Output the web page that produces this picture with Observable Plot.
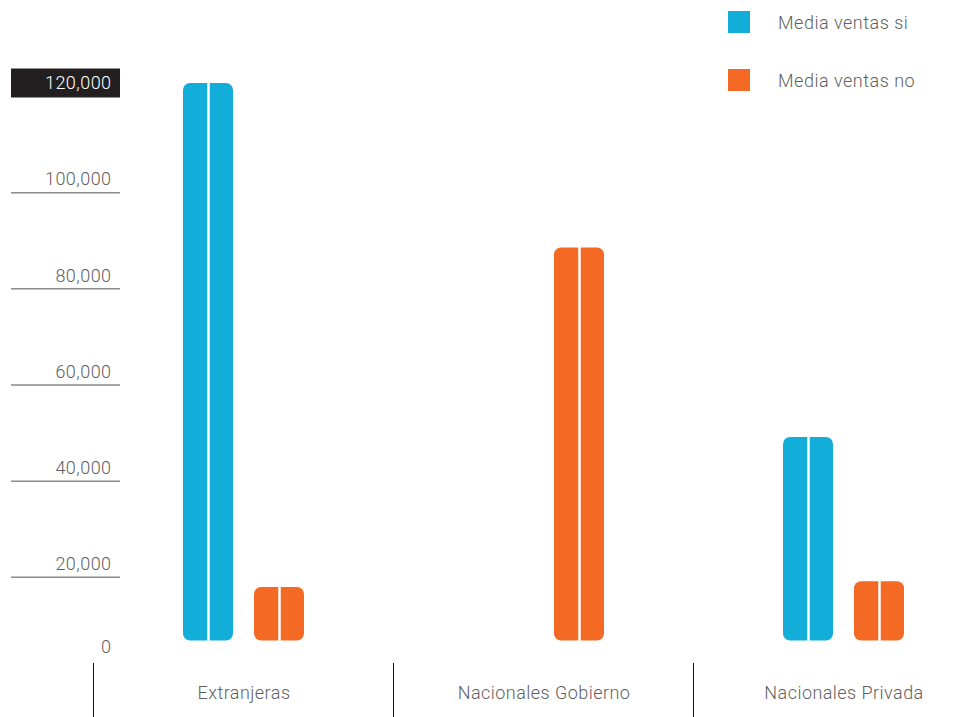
<!DOCTYPE html>
<html>
<head>
<meta charset="utf-8">
<script src="https://cdn.jsdelivr.net/npm/d3@7"></script>
<script src="https://cdn.jsdelivr.net/npm/@observablehq/plot@0.6"></script>
<style>
  html, body { margin: 0; padding: 0; background: #fff; }
  #wrap { position: relative; width: 956px; height: 717px; font-family: Roboto, "Liberation Sans", sans-serif; font-weight: 300; }
  #wrap svg text { letter-spacing: 0.45px; }
  .leg { position: absolute; left: 728px; display: flex; align-items: center; font-size: 18px; color: #5f5f5f; letter-spacing: 0.5px; }
  .leg .sw { width: 22px; height: 22px; margin-right: 28px; }
</style>
</head>
<body>
<div id="wrap"></div>
<script>
const categories = ["Extranjeras", "Nacionales Gobierno", "Nacionales Privada"];
const seriesNames = ["Media ventas si", "Media ventas no"];
const ventasSi = [120000, null, 46400];
const ventasNo = [15200, 85800, 16400];
const yTicks = [0, 20000, 40000, 60000, 80000, 100000, 120000];
const colors = ["#12aed9", "#f46a25"];

const table = [];
categories.forEach((c, i) => {
  if (ventasSi[i] != null) table.push({category: c, series: seriesNames[0], value: ventasSi[i]});
  if (ventasNo[i] != null) table.push({category: c, series: seriesNames[1], value: ventasNo[i]});
});

const fmt = d3.format(",");
const midTicks = yTicks.filter(t => t !== 0 && t !== 120000);
const topTick = [yTicks[yTicks.length - 1]];
const zeroTick = [yTicks[0]];

const chart = Plot.plot({
  width: 956,
  height: 717,
  marginTop: 83,
  marginBottom: 57,
  marginLeft: 183,
  marginRight: 52,
  style: {fontFamily: "Roboto, 'Liberation Sans', sans-serif", fontWeight: 300, fontSize: "18px", color: "#5f5f5f", background: "transparent"},
  fx: {domain: categories, paddingInner: 1 - 121 / 300, paddingOuter: 0, round: false, label: null},
  x: {domain: seriesNames, paddingInner: 21 / 71, paddingOuter: 0, round: false, axis: null},
  y: {domain: [0, 120000], label: null},
  color: {domain: seriesNames, range: colors},
  marks: [
    // y tick rules under labels
    Plot.axisY({ticks: midTicks, tickSize: 109, dx: -63, dy: 13, tickFormat: () => "", stroke: "#8a8a8a", strokeOpacity: 1, strokeWidth: 1.5, label: null}),
    // highlighted top tick box
    Plot.axisY({ticks: topTick, tickSize: 109, dx: -63, dy: -0.5, tickFormat: () => "", stroke: "#231f20", strokeOpacity: 1, strokeWidth: 29, label: null}),
    Plot.axisY({ticks: midTicks, tickSize: 0, tickPadding: 72, tickFormat: fmt, fill: "#5f5f5f", label: null}),
    Plot.axisY({ticks: topTick, tickSize: 0, tickPadding: 72, tickFormat: fmt, fill: "#ffffff", label: null}),
    Plot.axisY({ticks: zeroTick, tickSize: 0, tickPadding: 72, dy: -13, tickFormat: fmt, fill: "#5f5f5f", label: null}),
    // category separators and labels
    Plot.axisFx({anchor: "bottom", tickSize: 54, dx: -150.5, dy: 3, tickFormat: () => "", stroke: "#111", strokeOpacity: 1, strokeWidth: 1, label: null}),
    Plot.axisFx({anchor: "bottom", tickSize: 0, tickPadding: 26, fill: "#5f5f5f", label: null}),
    // bars
    Plot.barY(table, {fx: "category", x: "series", y: "value", fill: "series", rx: 7, insetBottom: 19.5}),
    Plot.ruleX(table, {fx: "category", x: "series", y1: 0, y2: "value", stroke: "#ffffff", strokeWidth: 2.5, insetBottom: 19.5})
  ]
});

const wrap = document.getElementById("wrap");
wrap.appendChild(chart);

const legTops = [11, 69];
seriesNames.forEach((s, i) => {
  const d = document.createElement("div");
  d.className = "leg";
  d.style.top = legTops[i] + "px";
  const sw = document.createElement("div");
  sw.className = "sw";
  sw.style.background = chart.scale("color").apply(s);
  const t = document.createElement("span");
  t.textContent = s;
  d.appendChild(sw);
  d.appendChild(t);
  wrap.appendChild(d);
});
chart.style.position = "absolute";
chart.style.left = "0";
chart.style.top = "0";
</script>
</body>
</html>
